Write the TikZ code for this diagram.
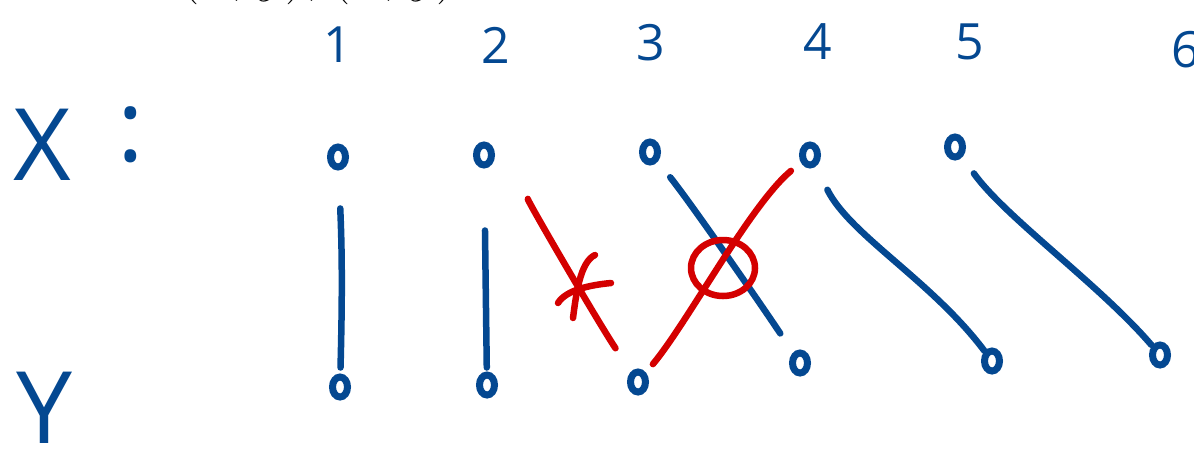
\documentclass[tikz,border=0pt]{standalone}
\usepackage{fontspec}
\setmainfont{Open Sans}
\usepackage{tikz}
\usetikzlibrary{shapes.geometric}

\definecolor{penblue}{RGB}{4,72,145}
\definecolor{penred}{RGB}{212,0,0}

\begin{document}
\begin{tikzpicture}[x=1pt, y=-1pt,
  pen/.style={line width=6.5pt, line cap=round, line join=round},
  num/.style={text=penblue, font=\fontsize{50}{50}\selectfont, inner sep=0pt},
  letter/.style={text=penblue, font=\fontsize{100}{100}\selectfont, inner sep=0pt},
  dot/.style={ellipse, draw=penblue, line width=7pt, minimum width=15pt,
              minimum height=20pt, inner sep=0pt},
  link/.style={pen, penblue},
  cut/.style={pen, penred}
]
\useasboundingbox (0,0) rectangle (1194,459);
\clip (0,0) rectangle (1194,459);

% cut-off formula at the top
\node[anchor=base, inner sep=0pt, font=\huge, scale=2.75] (pairs) at (318,-10)
  {$(x, y), (x, y)$};

% indices
\node[num] (n1) at (338,45) {1};
\node[num] (n2) at (496,45) {2};
\node[num] (n3) at (651,43) {3};
\node[num] (n4) at (818,42) {4};
\node[num] (n5) at (970,42) {5};
\node[num] (n6) at (1186,50) {6};

% rows
\node[letter] (xlab) at (42,145) {X};
\node[letter] (colon) at (131,135) {:};
\node[letter] (ylab) at (45,408) {Y};

\node[dot] (x1) at (338,157) {};
\node[dot] (x2) at (484,155) {};
\node[dot] (x3) at (650,152) {};
\node[dot] (x4) at (810,155) {};
\node[dot] (x5) at (955,147) {};

\node[dot] (y1) at (340,387) {};
\node[dot] (y2) at (487,385) {};
\node[dot] (y3) at (638,382) {};
\node[dot] (y4) at (800,363) {};
\node[dot] (y5) at (992,361) {};
\node[dot] (y6) at (1160,355) {};

% kept pairs
\draw[link, shorten <=38pt, shorten >=6pt] (x1) to[bend left=2] (y1);
\draw[link, shorten <=62pt, shorten >=4pt] (x2) -- (y2);
\draw[link, shorten <=20pt, shorten >=23pt] (x3) .. controls +(40,50) and +(-40,-60) .. (y4);
\draw[link, shorten <=26pt, shorten >=0pt] (x4) .. controls +(40,80) and +(-60,-80) .. (y5);
\draw[link, shorten <=20pt, shorten >=1pt] (x5) .. controls +(50,70) and +(-60,-70) .. (y6);

% rejected pairs
\draw[cut, shorten <=50pt, shorten >=28pt] (x2) .. controls +(40,40) and +(-40,-60) .. (y3);
\draw[cut, shorten <=13pt, shorten >=11pt] (x4) .. controls +(-60,50) and +(50,-60) .. (y3);

% marks
\draw[cut] (595,255) .. controls (580,262) and (576,295) .. (573,318);
\draw[cut] (558,303) .. controls (566,290) and (590,285) .. (611,283);
\draw[cut] (723,268) circle [x radius=32pt, y radius=28pt];
\end{tikzpicture}
\end{document}
